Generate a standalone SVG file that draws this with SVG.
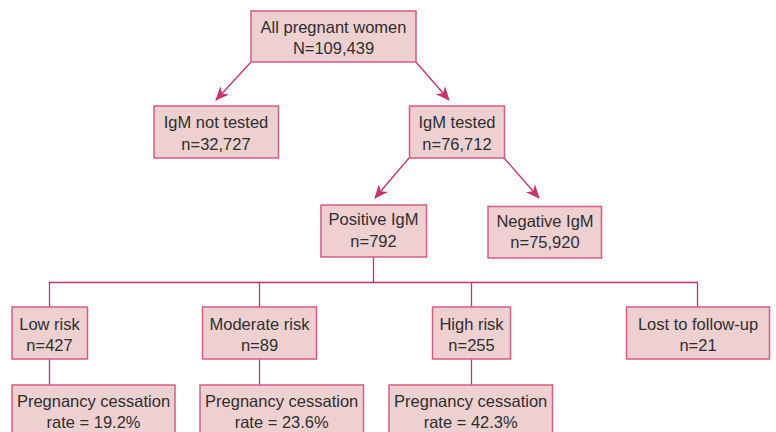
<svg xmlns="http://www.w3.org/2000/svg" width="776" height="432" viewBox="0 0 776 432">
<style>
.box{fill:#efd0d1;stroke:#d65c86;stroke-width:1.5}
.t{font-family:"Liberation Sans",Arial,sans-serif;font-size:16.5px;fill:#2e2e2e;text-anchor:middle}
.ln{stroke:#c8336b;stroke-width:1.3;fill:none}
</style>
<defs>
<marker id="ah" viewBox="0 0 14 12" refX="13" refY="6" markerWidth="14" markerHeight="12" markerUnits="userSpaceOnUse" orient="auto">
<path d="M0,0 L14,6 L0,12 L4,6 z" fill="#c8336b"/>
</marker>
</defs>
<rect width="776" height="432" fill="#ffffff"/>
<g id="connectors">
<line class="ln" x1="251" y1="62" x2="216" y2="100" marker-end="url(#ah)"/>
<line class="ln" x1="416" y1="62" x2="449" y2="100" marker-end="url(#ah)"/>
<line class="ln" x1="409" y1="158" x2="375" y2="198" marker-end="url(#ah)"/>
<line class="ln" x1="504" y1="158" x2="539" y2="198" marker-end="url(#ah)"/>
<polyline class="ln" points="373.5,257 373.5,282.5"/>
<polyline class="ln" points="49.5,307 49.5,282.5 697.5,282.5 697.5,307"/>
<line class="ln" x1="259.5" y1="282.5" x2="259.5" y2="307"/>
<line class="ln" x1="471.5" y1="282.5" x2="471.5" y2="307"/>
<line class="ln" x1="49.5" y1="359" x2="49.5" y2="385"/>
<line class="ln" x1="259.5" y1="359" x2="259.5" y2="385"/>
<line class="ln" x1="471.5" y1="359" x2="471.5" y2="385"/>
</g>
<g id="all">
<rect class="box" x="251" y="11" width="165" height="51"/>
<text class="t" x="333.5" y="33">All pregnant women</text>
<text class="t" x="333.5" y="54">N=109,439</text>
</g>
<g id="notTested">
<rect class="box" x="154" y="106" width="124.5" height="52"/>
<text class="t" x="216" y="128">IgM not tested</text>
<text class="t" x="216" y="150">n=32,727</text>
</g>
<g id="tested">
<rect class="box" x="409.5" y="106" width="95" height="52"/>
<text class="t" x="457" y="128">IgM tested</text>
<text class="t" x="457" y="150">n=76,712</text>
</g>
<g id="positive">
<rect class="box" x="321" y="205" width="105.5" height="52"/>
<text class="t" x="373.5" y="225">Positive IgM</text>
<text class="t" x="373.5" y="247">n=792</text>
</g>
<g id="negative">
<rect class="box" x="488" y="206.5" width="113.5" height="51.5"/>
<text class="t" x="545" y="226.5">Negative IgM</text>
<text class="t" x="545" y="248">n=75,920</text>
</g>
<g id="low">
<rect class="box" x="12" y="307" width="75.5" height="52"/>
<text class="t" x="49.5" y="330">Low risk</text>
<text class="t" x="49.5" y="351">n=427</text>
</g>
<g id="moderate">
<rect class="box" x="202.5" y="307" width="114" height="52"/>
<text class="t" x="259.5" y="330">Moderate risk</text>
<text class="t" x="259.5" y="351">n=89</text>
</g>
<g id="high">
<rect class="box" x="432.5" y="307" width="78" height="52"/>
<text class="t" x="471.5" y="330">High risk</text>
<text class="t" x="471.5" y="351">n=255</text>
</g>
<g id="lost">
<rect class="box" x="626.5" y="307" width="143" height="52"/>
<text class="t" x="698" y="330">Lost to follow-up</text>
<text class="t" x="698" y="351">n=21</text>
</g>
<g id="lowRate">
<rect class="box" x="12" y="385" width="163" height="52"/>
<text class="t" x="93.5" y="407">Pregnancy cessation</text>
<text class="t" x="93.5" y="428">rate = 19.2%</text>
</g>
<g id="moderateRate">
<rect class="box" x="200" y="385" width="163.5" height="52"/>
<text class="t" x="281.7" y="407">Pregnancy cessation</text>
<text class="t" x="281.7" y="428">rate = 23.6%</text>
</g>
<g id="highRate">
<rect class="box" x="389" y="385" width="163.5" height="52"/>
<text class="t" x="470.7" y="407">Pregnancy cessation</text>
<text class="t" x="470.7" y="428">rate = 42.3%</text>
</g>
</svg>
